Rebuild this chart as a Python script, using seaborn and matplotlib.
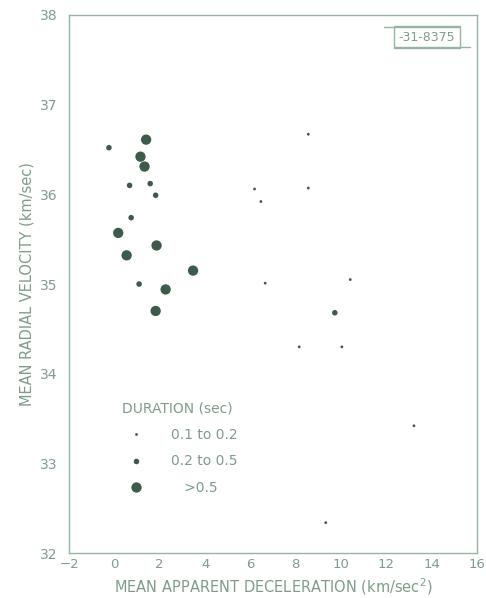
import pandas as pd
import matplotlib.pyplot as plt
import seaborn as sns

# Values
deceleration = [1.40, -0.24, 1.15, 1.33, 0.67, 1.58, 1.82, 0.74, 0.17, 1.86,
                0.54, 3.47, 1.09, 2.26, 1.82,
                8.55, 6.18, 8.55, 6.46, 6.65, 10.40, 9.72, 8.15, 10.03,
                13.21, 9.32]
velocity = [36.61, 36.52, 36.42, 36.31, 36.10, 36.12, 35.99, 35.74, 35.57, 35.43,
            35.32, 35.15, 35.00, 34.94, 34.70,
            36.67, 36.06, 36.07, 35.92, 35.01, 35.05, 34.68, 34.30, 34.30,
            33.42, 32.34]
duration = ['>0.5', '0.2 to 0.5', '>0.5', '>0.5', '0.2 to 0.5', '0.2 to 0.5',
            '0.2 to 0.5', '0.2 to 0.5', '>0.5', '>0.5',
            '>0.5', '>0.5', '0.2 to 0.5', '>0.5', '>0.5',
            '0.1 to 0.2', '0.1 to 0.2', '0.1 to 0.2', '0.1 to 0.2', '0.1 to 0.2',
            '0.1 to 0.2', '0.2 to 0.5', '0.1 to 0.2', '0.1 to 0.2',
            '0.1 to 0.2', '0.1 to 0.2']
classes = ['0.1 to 0.2', '0.2 to 0.5', '>0.5']

df = pd.DataFrame({'decel': deceleration, 'vel': velocity, 'dur': duration})

text_col = '#7f9c8a'
frame_col = '#94b5a0'
dot_col = '#3d5a4b'

sns.set_style('white')
plt.rcParams['font.family'] = ['DejaVu Sans']

fig = plt.figure(figsize=(4.86, 5.98), dpi=100)
ax = fig.add_axes([0.142, 0.075, 0.840, 0.9])

sns.scatterplot(data=df, x='decel', y='vel', size='dur', size_order=classes,
                sizes={'0.1 to 0.2': 4, '0.2 to 0.5': 16, '>0.5': 55},
                color=dot_col, edgecolor='none', ax=ax)

ax.set_xlim(-2, 16)
ax.set_ylim(32, 38)
ax.set_xticks(range(-2, 17, 2))
ax.set_yticks(range(32, 39))
ax.set_xlabel('MEAN APPARENT DECELERATION (km/sec$^2$)', color=text_col, fontsize=10.5)
ax.set_ylabel('MEAN RADIAL VELOCITY (km/sec)', color=text_col, fontsize=10.5)
ax.tick_params(axis='x', direction='in', length=7, colors=frame_col, labelcolor=text_col,
               labelsize=9.5)
ax.tick_params(axis='y', direction='out', length=5, colors=frame_col, labelcolor=text_col,
               labelsize=10)
for s in ax.spines.values():
    s.set_color(frame_col)
    s.set_linewidth(1)

leg = ax.legend(title='DURATION (sec)', loc='upper left', bbox_to_anchor=(0.1, 0.305),
                frameon=False, fontsize=10, title_fontsize=10, labelspacing=0.9,
                handletextpad=1.5, alignment='left')
for t in leg.get_texts():
    t.set_color(text_col)
    if t.get_text() == '>0.5':
        t.set_text('   >0.5')
leg.get_title().set_color(text_col)

ax.text(0.877, 0.959, '-31-8375', transform=ax.transAxes, ha='center', va='center',
        color=text_col, fontsize=9,
        bbox=dict(boxstyle='square,pad=0.35', fc='white', ec=frame_col, lw=1))
# lines running off the label box
ax.plot([0.772, 0.955], [0.978, 0.978], color=frame_col, lw=1,
        transform=ax.transAxes, zorder=5)
ax.plot([0.795, 0.982], [0.940, 0.940], color=frame_col, lw=1,
        transform=ax.transAxes, zorder=5)

fig.savefig('out.png', dpi=100)
